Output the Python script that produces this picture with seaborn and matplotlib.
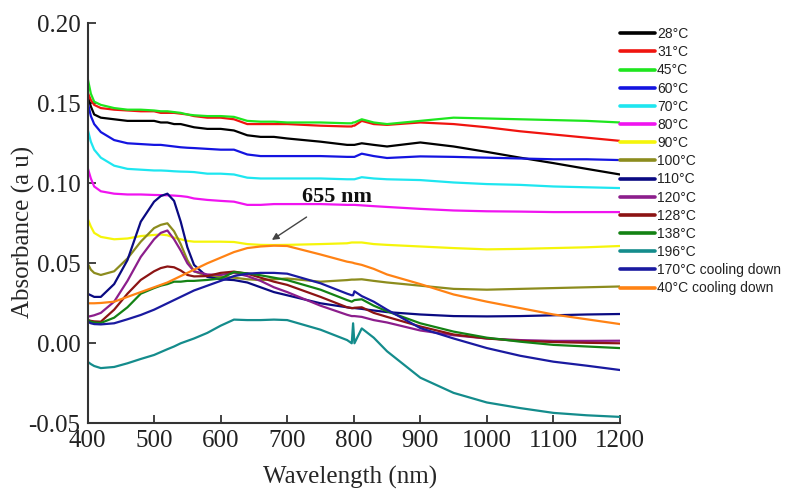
import matplotlib
matplotlib.use("Agg")
import matplotlib.pyplot as plt
from matplotlib.lines import Line2D
import pandas as pd
import seaborn as sns

# Shared wavelength grid (nm)
wavelength = [400, 405, 410, 420, 440, 460, 480, 500, 510, 520, 530, 540, 550, 560,
              580, 600, 620, 640, 660, 680, 700, 750, 790, 797, 799, 801, 812, 830,
              850, 900, 950, 1000, 1050, 1100, 1150, 1200]

# Absorbance spectra, one list per temperature
abs_28 = [.155, .148, .143, .141, .140, .139, .139, .139, .138, .138, .137, .137, .136, .135,
          .134, .134, .133, .130, .129, .129, .128, .126, .124, .124, .124, .124, .125, .124,
          .123, .1255, .123, .1196, .116, .1126, .109, .1055]
abs_31 = [.157, .152, .149, .147, .146, .1455, .145, .145, .144, .144, .144, .1435, .143, .142,
          .141, .141, .140, .137, .137, .137, .137, .136, .1355, .1355, .136, .136, .139, .137,
          .1365, .138, .137, .135, .1325, .1305, .1285, .1265]
abs_45 = [.166, .156, .151, .149, .147, .146, .146, .1455, .145, .145, .1445, .144, .143, .1425,
          .142, .142, .1415, .139, .1385, .1385, .138, .138, .1375, .1375, .138, .138, .140, .138,
          .137, .139, .141, .1405, .140, .1395, .139, .138]
abs_60 = [.151, .142, .137, .132, .127, .125, .1245, .124, .124, .1235, .123, .1225, .1222, .122,
          .1215, .121, .121, .118, .117, .117, .117, .117, .1165, .1165, .1165, .1165, .1185, .117,
          .1158, .1168, .1165, .116, .1155, .115, .115, .1145]
abs_70 = [.134, .126, .121, .116, .111, .109, .1085, .108, .108, .1078, .1075, .1073, .1072, .107,
          .106, .106, .1055, .1035, .103, .103, .103, .103, .1025, .1025, .1025, .1025, .1038, .103,
          .1025, .102, .1005, .0995, .099, .098, .0975, .097]
abs_80 = [.110, .103, .098, .095, .0935, .093, .093, .0927, .0926, .0925, .0923, .092, .0915, .0905,
          .0896, .089, .0885, .0865, .0865, .087, .087, .087, .0865, .0865, .0865, .0865, .0862, .0857,
          .0852, .084, .083, .0825, .0823, .082, .082, .082]
abs_90 = [.078, .073, .069, .0665, .065, .0655, .067, .0677, .068, .0675, .066, .065, .064, .0635,
          .0635, .0635, .0633, .062, .0615, .0614, .0615, .062, .0625, .063, .063, .063, .063, .062,
          .0615, .0605, .0595, .0587, .059, .0595, .060, .0608]
abs_100 = [.050, .046, .044, .0427, .045, .053, .0635, .072, .074, .075, .070, .062, .052, .045,
           .042, .0415, .041, .040, .0395, .040, .0405, .0385, .0395, .0398, .0398, .0398, .040, .039,
           .038, .036, .034, .0335, .034, .0345, .035, .0355]
abs_110 = [.031, .030, .029, .029, .037, .052, .076, .0885, .092, .0935, .089, .076, .060, .049,
           .0415, .040, .0395, .038, .035, .032, .030, .025, .0225, .022, .022, .022, .0215, .0205,
           .0195, .018, .017, .0168, .017, .0175, .018, .0183]
abs_120 = [.0166, .017, .0175, .019, .026, .039, .054, .065, .069, .0705, .065, .058, .050, .045,
           .043, .0427, .044, .042, .039, .035, .032, .0235, .0178, .017, .017, .017, .0165, .0145,
           .013, .008, .005, .003, .002, .0015, .0015, .0016]
abs_128 = [.0146, .014, .0137, .0135, .021, .031, .0396, .045, .047, .048, .0475, .0455, .0427, .0418,
           .042, .044, .0448, .0435, .041, .0385, .0365, .029, .0225, .022, .022, .0222, .0225, .019,
           .0165, .0105, .0055, .003, .0015, .0008, .0003, 0.0]
abs_138 = [.0146, .0135, .013, .0127, .016, .0225, .031, .0345, .036, .037, .0385, .0385, .039, .039,
           .0396, .0405, .0445, .0437, .0425, .041, .0395, .0335, .027, .026, .0265, .027, .0275, .0235,
           .020, .0125, .0073, .0035, .001, -.001, -.002, -.003]
abs_196 = [-.0115, -.013, -.0142, -.0155, -.0148, -.0125, -.0098, -.0073, -.0055, -.0037, -.002, 0.0,
           .0015, .003, .0065, .011, .0148, .0145, .0145, .0148, .0145, .0085, .002, 0.0, .0125, 0.0,
           .0093, .0035, -.005, -.0215, -.031, -.037, -.0405, -.0435, -.045, -.046]
abs_170_cool = [.0135, .0125, .012, .0118, .0125, .015, .0177, .021, .023, .025, .027, .029, .031, .033,
                .036, .039, .042, .0435, .044, .044, .0435, .0375, .031, .030, .030, .0325, .0295, .026,
                .021, .0095, .003, -.003, -.0078, -.0115, -.014, -.0167]
abs_40_cool = [.025, .025, .025, .0252, .026, .029, .032, .035, .0365, .038, .040, .042, .044, .046,
               .050, .0535, .057, .0595, .0605, .061, .0608, .0555, .051, .0505, .0503, .050, .049, .0465,
               .043, .037, .0305, .026, .022, .018, .015, .012]

labels = ["28°C", "31°C", "45°C", "60°C", "70°C", "80°C", "90°C", "100°C", "110°C",
          "120°C", "128°C", "138°C", "196°C", "170°C cooling down", "40°C cooling down"]
spectra = [abs_28, abs_31, abs_45, abs_60, abs_70, abs_80, abs_90, abs_100, abs_110,
           abs_120, abs_128, abs_138, abs_196, abs_170_cool, abs_40_cool]
colors = ["#000000", "#f0140f", "#1ee61e", "#1414e0", "#1ee6f0", "#f014f0", "#f5f50a",
          "#8c8c1e", "#0a0a82", "#8c1e8c", "#8c1414", "#148214", "#148c8c", "#1a1aa0", "#ff8214"]

# Peak annotation
peak_label = "655 nm"
peak_xy = (677, 0.0646)
peak_text_xy = (775, 0.0915)

df = pd.concat(
    [pd.DataFrame({"Wavelength": wavelength, "Absorbance": s, "Series": lab})
     for lab, s in zip(labels, spectra)],
    ignore_index=True,
)

sns.set_style("ticks")
plt.rcParams["font.family"] = ["Liberation Serif", "DejaVu Serif"]

fig = plt.figure(figsize=(7.85, 4.93), dpi=100)
ax = fig.add_axes([0.1115, 0.1414, 0.6783, 0.8114])

sns.lineplot(data=df, x="Wavelength", y="Absorbance", hue="Series", hue_order=labels,
             palette=dict(zip(labels, colors)), estimator=None, sort=True,
             linewidth=1.6, legend=False, ax=ax)

ax.set_xlim(400, 1200)
ax.set_ylim(-0.05, 0.20)
ax.set_xticks(range(400, 1201, 100))
ax.set_yticks([-0.05, 0.0, 0.05, 0.10, 0.15, 0.20])
ax.set_yticklabels(["-0.05", "0.00", "0.05", "0.10", "0.15", "0.20"])
ax.set_xlabel("Wavelength (nm)", fontsize=18)
ax.set_ylabel("Absorbance (a u)", fontsize=18)
ax.xaxis.set_label_coords(0.493, -0.135)
ax.yaxis.set_label_coords(-0.121, 0.478)
ax.xaxis.label.set_va("center")
ax.yaxis.label.set_va("center")
ax.tick_params(direction="in", length=6, width=1.2, labelsize=18, pad=5, colors="#222222")
for side in ("top", "right"):
    ax.spines[side].set_visible(False)
for side in ("left", "bottom"):
    ax.spines[side].set_linewidth(1.5)
    ax.spines[side].set_color("#333333")

ax.annotate(peak_label, xy=peak_xy, xytext=peak_text_xy, ha="center", va="center",
            fontsize=16, fontweight="bold", color="#111111",
            arrowprops=dict(arrowstyle="-|>", color="#444444", lw=1.0,
                            mutation_scale=10, shrinkA=9, shrinkB=0))

handles = [Line2D([], [], color=c, lw=2.6) for c in colors]
fig.legend(handles, labels, loc="upper left", bbox_to_anchor=(0.79, 0.945),
           frameon=False, prop={"family": "Liberation Sans", "size": 10},
           handlelength=2.5, handletextpad=0.15, labelspacing=0.3,
           borderpad=0, borderaxespad=0, labelcolor="#222222")

fig.savefig("out.png", dpi=100)
